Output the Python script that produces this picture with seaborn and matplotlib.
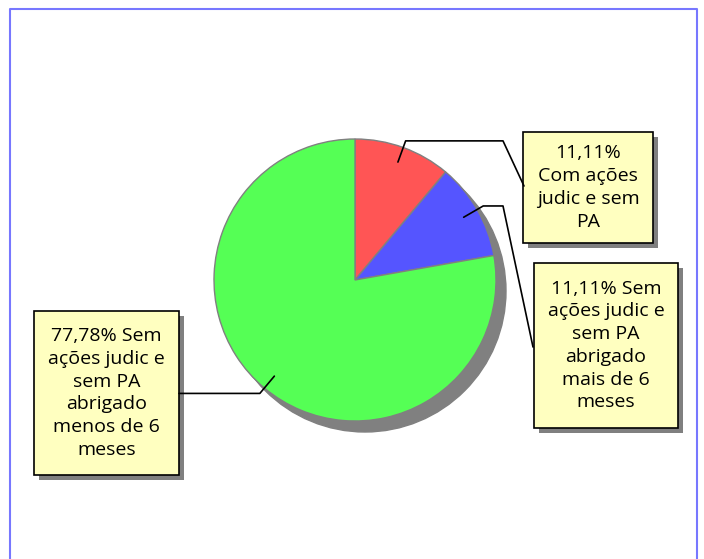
import numpy as np
import matplotlib
matplotlib.use("Agg")
import matplotlib.pyplot as plt
import matplotlib.patches as mpatches
import seaborn as sns

# dados da pizza
categorias = ["11,11%\nCom ações\njudic e sem\nPA",
              "11,11% Sem\nações judic e\nsem PA\nabrigado\nmais de 6\nmeses",
              "77,78% Sem\nações judic e\nsem PA\nabrigado\nmenos de 6\nmeses"]
valores = [11.11, 11.11, 77.78]
cores = ["#FF5555", "#5555FF", "#55FF55"]

sns.set_style("white")
plt.rcParams['font.family'] = ['Open Sans', 'DejaVu Sans']

W, H = 704, 559
fig = plt.figure(figsize=(W / 100, H / 100), dpi=100)
ax = fig.add_axes([0, 0, 1, 1])
ax.set_xlim(0, W)
ax.set_ylim(0, H)
ax.set_aspect('equal')
ax.axis('off')

def py(y):
    # pixel (de cima) -> coordenada y
    return H - y

# moldura azul
ax.plot([10, 10, 697, 697], [py(562), py(9), py(9), py(562)], color="#7777FF", lw=1.5,
        clip_on=False)

cx, cy, R = 355, py(280), 141

# sombra
ax.add_patch(mpatches.Circle((cx + 10, cy - 11), R, color="#808080", zorder=1))

wedges, _ = ax.pie(valores, colors=cores, startangle=90, counterclock=False,
                   center=(cx, cy), radius=R, frame=True,
                   wedgeprops=dict(edgecolor="#808080", linewidth=1, zorder=2))
ax.set_xlim(0, W)
ax.set_ylim(0, H)
ax.axis('off')

# caixas dos rótulos (x0, y0, x1, y1 em pixels)
caixas = [(523, 132, 653, 243), (534, 263, 678, 428), (34, 311, 179, 475)]
# fim horizontal da linha de chamada e ponto de chegada na caixa
fim_h = [503, 503, 179]
chegada = [(524, 186), (533, 347), None]

for w, txt, (x0, y0, x1, y1), xh, ch in zip(wedges, categorias, caixas, fim_h, chegada):
    ang = np.deg2rad((w.theta1 + w.theta2) / 2)
    p0 = (cx + 0.89 * R * np.cos(ang), cy + 0.89 * R * np.sin(ang))
    p1 = (cx + 1.05 * R * np.cos(ang), cy + 1.05 * R * np.sin(ang))
    xs = [p0[0], p1[0], xh]
    ys = [p0[1], p1[1], p1[1]]
    if ch is not None:
        xs.append(ch[0])
        ys.append(py(ch[1]))
    ax.plot(xs, ys, color="black", lw=1.2, zorder=5)

    ax.add_patch(mpatches.Rectangle((x0 + 5, py(y1) - 5), x1 - x0, y1 - y0,
                                    facecolor="#808080", edgecolor="none", zorder=3))
    ax.add_patch(mpatches.Rectangle((x0, py(y1)), x1 - x0, y1 - y0,
                                    facecolor="#FFFFC0", edgecolor="black", lw=1.2, zorder=4))
    ax.text((x0 + x1) / 2, py((y0 + y1) / 2), txt, ha="center", va="center",
            fontsize=14, linespacing=1.34, color="black", zorder=6)

plt.savefig("out.png", dpi=100)
